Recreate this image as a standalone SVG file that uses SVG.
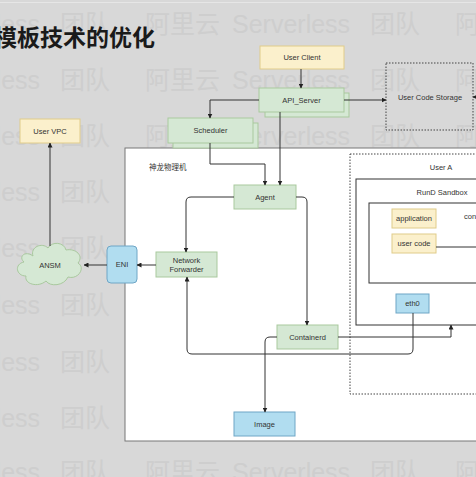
<svg xmlns="http://www.w3.org/2000/svg" width="476" height="477" viewBox="0 0 476 477">
<defs>
<marker id="arr" viewBox="0 0 10 10" refX="9" refY="5" markerWidth="5" markerHeight="5" orient="auto" markerUnits="userSpaceOnUse">
<path d="M0,0 L10,5 L0,10 Z" fill="#222"/>
</marker>
<style>
.wm{font-family:"Liberation Sans","Noto Sans CJK SC",sans-serif;font-size:25px;fill:#cecece}
.lbl{font-family:"Liberation Sans","Noto Sans CJK SC",sans-serif;font-size:7.5px;fill:#333;text-anchor:middle;dominant-baseline:central}
.yel{fill:#fbf0cc;stroke:#e0cc8a;stroke-width:1}
.grn{fill:#d5e8d4;stroke:#a9c99e;stroke-width:1}
.blu{fill:#b1ddf0;stroke:#6fa6c6;stroke-width:1}
.edge{fill:none;stroke:#333;stroke-width:1;marker-end:url(#arr)}
.plain{fill:none;stroke:#333;stroke-width:1}
.dot{fill:none;stroke:#444;stroke-width:1;stroke-dasharray:1.5 1.5}
</style>
</defs>
<rect x="0" y="0" width="476" height="477" fill="#d8d8d8"/>
<line x1="0" y1="2.5" x2="476" y2="2.5" stroke="#e6e6e6" stroke-width="1"/>
<g id="watermark">
<text class="wm" y="33"><tspan x="-78">Serverless</tspan><tspan x="60">团队</tspan><tspan x="145">阿里云</tspan><tspan x="232">Serverless</tspan><tspan x="370">团队</tspan><tspan x="455">阿里云</tspan></text>
<text class="wm" y="89"><tspan x="-78">Serverless</tspan><tspan x="60">团队</tspan><tspan x="145">阿里云</tspan><tspan x="232">Serverless</tspan><tspan x="370">团队</tspan><tspan x="455">阿里云</tspan></text>
<text class="wm" y="145"><tspan x="-78">Serverless</tspan><tspan x="60">团队</tspan><tspan x="145">阿里云</tspan><tspan x="232">Serverless</tspan><tspan x="370">团队</tspan><tspan x="455">阿里云</tspan></text>
<text class="wm" y="201"><tspan x="-78">Serverless</tspan><tspan x="60">团队</tspan></text>
<text class="wm" y="257"><tspan x="-78">Serverless</tspan><tspan x="60">团队</tspan></text>
<text class="wm" y="314"><tspan x="-78">Serverless</tspan><tspan x="60">团队</tspan></text>
<text class="wm" y="371"><tspan x="-78">Serverless</tspan><tspan x="60">团队</tspan></text>
<text class="wm" y="427"><tspan x="-78">Serverless</tspan><tspan x="60">团队</tspan></text>
<text class="wm" y="481"><tspan x="-78">Serverless</tspan><tspan x="60">团队</tspan><tspan x="145">阿里云</tspan><tspan x="232">Serverless</tspan><tspan x="370">团队</tspan><tspan x="455">阿里云</tspan></text>
</g>
<text x="-6" y="46" font-family="'Noto Sans CJK SC',sans-serif" font-size="23" font-weight="bold" fill="#1a1a1a">模板技术的优化</text>
<g id="panel">
<rect x="125" y="148" width="360" height="293" fill="#fff" stroke="#777" stroke-width="1"/>
<text x="149" y="170" font-family="'Noto Sans CJK SC',sans-serif" font-size="7.5" fill="#333">神龙物理机</text>
</g>
<g id="userA">
<rect x="350" y="154" width="140" height="240" class="dot"/>
<text class="lbl" x="441" y="167">User A</text>
</g>
<g id="rund-sandbox">
<rect x="356" y="179" width="130" height="146" fill="none" stroke="#333" stroke-width="1"/>
<text class="lbl" x="442" y="192">RunD Sandbox</text>
</g>
<g id="container">
<rect x="369" y="203" width="120" height="80" fill="none" stroke="#333" stroke-width="1"/>
<text x="464" y="218.5" font-family="'Liberation Sans',sans-serif" font-size="7.5" fill="#333">con</text>
</g>
<g id="user-client">
<rect class="yel" x="260" y="46" width="84" height="23"/>
<text class="lbl" x="302" y="57.5">User Client</text>
</g>
<g id="api-server">
<rect class="grn" x="265" y="93" width="84" height="24"/>
<rect class="grn" x="259" y="88" width="85" height="24"/>
<text class="lbl" x="301.5" y="100">API_Server</text>
</g>
<g id="user-code-storage">
<rect class="dot" x="386" y="63" width="87" height="67"/>
<text class="lbl" x="430" y="97">User Code Storage</text>
</g>
<g id="scheduler">
<rect class="grn" x="173" y="123" width="85" height="25"/>
<rect class="grn" x="168" y="118" width="85" height="25"/>
<text class="lbl" x="210.5" y="130.5">Scheduler</text>
</g>
<g id="user-vpc">
<rect class="yel" x="20" y="119" width="60" height="24"/>
<text class="lbl" x="50" y="131">User VPC</text>
</g>
<g id="agent">
<rect class="grn" x="234" y="185" width="62" height="24"/>
<text class="lbl" x="265" y="197">Agent</text>
</g>
<g id="network-forwarder">
<rect class="grn" x="156" y="252" width="61" height="25"/>
<text class="lbl" x="186.5" y="260.5">Network</text>
<text class="lbl" x="186.5" y="269">Forwarder</text>
</g>
<g id="eni">
<rect class="blu" x="107" y="246" width="30" height="37" rx="4" stroke="#4f93c0"/>
<text class="lbl" x="122" y="264.5">ENI</text>
</g>
<g id="ansm">
<path class="grn" d="M33,256 C30,247 42,242 48,248 C52,241 64,242 66,250 C76,248 84,256 78,263 C86,268 78,280 68,277 C64,286 50,287 46,281 C38,288 24,284 26,276 C16,276 14,264 24,262 C18,257 25,250 33,256 Z" stroke="#8fb585"/>
<text class="lbl" x="50" y="265">ANSM</text>
</g>
<g id="containerd">
<rect class="grn" x="277" y="325" width="61" height="24"/>
<text class="lbl" x="307.5" y="337">Containerd</text>
</g>
<g id="image">
<rect class="blu" x="234" y="412" width="61" height="24"/>
<text class="lbl" x="264.5" y="424">Image</text>
</g>
<g id="application">
<rect class="yel" x="392" y="209" width="44" height="19"/>
<text class="lbl" x="414" y="218.5">application</text>
</g>
<g id="user-code">
<rect class="yel" x="392" y="234" width="44" height="19"/>
<text class="lbl" x="414" y="243.5">user code</text>
</g>
<g id="eth0">
<rect class="blu" x="396" y="294" width="33" height="19"/>
<text class="lbl" x="412.5" y="303.5">eth0</text>
</g>
<g id="connectors">
<path class="edge" d="M301,69 V88"/>
<path class="edge" d="M344,100 H386"/>
<path class="edge" d="M259,100 H210 V118"/>
<path class="edge" d="M280,112 V185"/>
<path class="edge" d="M210,143 V164 H265 V185"/>
<path class="edge" d="M234,197 H191 Q186,197 186,202 V252"/>
<path class="edge" d="M296,197 H302 Q307,197 307,202 V325"/>
<path class="edge" d="M156,265 H137"/>
<path class="edge" d="M107,265 H84"/>
<path class="edge" d="M50,246 V143"/>
<path class="edge" d="M338,337 H451 V325"/>
<path class="edge" d="M277,337 H270 Q265,337 265,342 V412"/>
<path class="edge" d="M413,313 V349 Q413,354 408,354 H192 Q187,354 187,349 V277"/>
<path class="plain" d="M436,247 H476"/>
<path class="edge" d="M484,97 H473"/>
</g>
</svg>
